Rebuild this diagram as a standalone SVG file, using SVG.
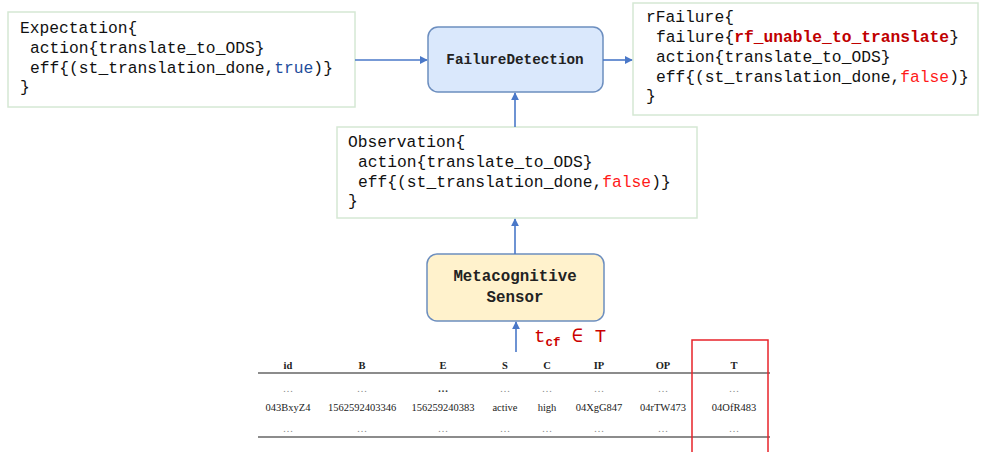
<svg xmlns="http://www.w3.org/2000/svg" width="982" height="452" viewBox="0 0 982 452">
<style>
.code{font-family:"Liberation Mono","DejaVu Sans Mono",monospace;font-size:16.3px;fill:#111}
.box{fill:#fff;stroke:#d5e8d4;stroke-width:1.5}
.node{font-family:"Liberation Mono","DejaVu Sans Mono",monospace;font-size:14.3px;font-weight:bold;fill:#222;text-anchor:middle}
.conn{stroke:#4a78c8;stroke-width:1.6;fill:none}
.tb{font-family:"Liberation Serif","Times New Roman",serif;font-size:10.5px;fill:#222;text-anchor:middle}
.th{font-weight:bold}
.dots{fill:#888}
.blue{fill:#1f4e9c}
.red{fill:#ff1a1a}
.dred{fill:#c00000;font-weight:bold}
</style>
<defs>
<marker id="ah" viewBox="0 0 10 10" refX="9" refY="5" markerWidth="8" markerHeight="8" markerUnits="userSpaceOnUse" orient="auto">
<path d="M0,0 L10,5 L0,10 z" fill="#4a78c8"/>
</marker>
</defs>

<g id="expectation">
<rect class="box" x="8" y="12" width="347" height="95"/>
<text class="code" x="20" y="33">Expectation{</text>
<text class="code" x="30" y="53">action{translate_to_ODS}</text>
<text class="code" x="30" y="73">eff{(st_translation_done,<tspan class="blue">true</tspan>)}</text>
<text class="code" x="20" y="92">}</text>
</g>

<g id="failure-detection">
<rect x="428" y="27" width="175" height="65" rx="10" ry="10" fill="#dae8fc" stroke="#6c8ebf" stroke-width="1.5"/>
<text class="node" x="515" y="64">FailureDetection</text>
</g>

<g id="rfailure">
<rect class="box" x="633" y="3" width="345" height="112"/>
<text class="code" x="646" y="22">rFailure{</text>
<text class="code" x="656" y="42">failure{<tspan class="dred">rf_unable_to_translate</tspan>}</text>
<text class="code" x="656" y="62">action{translate_to_ODS}</text>
<text class="code" x="656" y="82">eff{(st_translation_done,<tspan class="red">false</tspan>)}</text>
<text class="code" x="646" y="101">}</text>
</g>

<g id="observation">
<rect class="box" x="337" y="127" width="360" height="91"/>
<text class="code" x="348" y="147">Observation{</text>
<text class="code" x="358" y="167">action{translate_to_ODS}</text>
<text class="code" x="358" y="187">eff{(st_translation_done,<tspan class="red">false</tspan>)}</text>
<text class="code" x="348" y="206">}</text>
</g>

<g id="metacognitive-sensor">
<rect x="427" y="254" width="177" height="67" rx="10" ry="10" fill="#fff2cc" stroke="#6c8ebf" stroke-width="1.5"/>
<text class="node" x="515" y="281" style="font-size:15.8px">Metacognitive</text>
<text class="node" x="515" y="302" style="font-size:15.8px">Sensor</text>
</g>

<g id="connectors">
<line class="conn" x1="355" y1="60" x2="427" y2="60" marker-end="url(#ah)"/>
<line class="conn" x1="603" y1="60" x2="632" y2="60" marker-end="url(#ah)"/>
<line class="conn" x1="515" y1="127" x2="515" y2="93" marker-end="url(#ah)"/>
<line class="conn" x1="515" y1="254" x2="515" y2="219" marker-end="url(#ah)"/>
<line class="conn" x1="516" y1="352" x2="516" y2="322" marker-end="url(#ah)"/>
</g>

<g id="label">
<text font-family="Liberation Mono,DejaVu Sans Mono,monospace" font-size="19" fill="#cc0000" x="534" y="342">t<tspan font-size="12.5" font-weight="bold" dy="4">cf</tspan><tspan dy="-4"> ∈ T</tspan></text>
</g>

<g id="table">
<line x1="258" y1="373" x2="770" y2="373" stroke="#666" stroke-width="1.5"/>
<line x1="258" y1="437" x2="770" y2="437" stroke="#666" stroke-width="1.5"/>
<g class="tb th">
<text x="288" y="369">id</text>
<text x="362" y="369">B</text>
<text x="443" y="369">E</text>
<text x="505" y="369">S</text>
<text x="547" y="369">C</text>
<text x="599" y="369">IP</text>
<text x="663" y="369">OP</text>
<text x="734" y="369">T</text>
</g>
<g class="tb dots">
<text x="288" y="392">…</text>
<text x="362" y="392">…</text>
<text x="443" y="392" font-weight="bold" fill="#333">…</text>
<text x="505" y="392">…</text>
<text x="547" y="392">…</text>
<text x="599" y="392">…</text>
<text x="663" y="392">…</text>
<text x="734" y="392">…</text>
</g>
<g class="tb">
<text x="288" y="411">043BxyZ4</text>
<text x="362" y="411">1562592403346</text>
<text x="443" y="411">156259240383</text>
<text x="505" y="411">active</text>
<text x="547" y="411">high</text>
<text x="599" y="411">04XgG847</text>
<text x="663" y="411">04rTW473</text>
<text x="734" y="411">04OfR483</text>
</g>
<g class="tb dots">
<text x="288" y="432">…</text>
<text x="362" y="432">…</text>
<text x="443" y="432">…</text>
<text x="505" y="432">…</text>
<text x="547" y="432">…</text>
<text x="599" y="432">…</text>
<text x="663" y="432">…</text>
<text x="734" y="432">…</text>
</g>
<rect x="692" y="340" width="76" height="120" fill="none" stroke="#e8232a" stroke-width="1.5"/>
</g>
</svg>
